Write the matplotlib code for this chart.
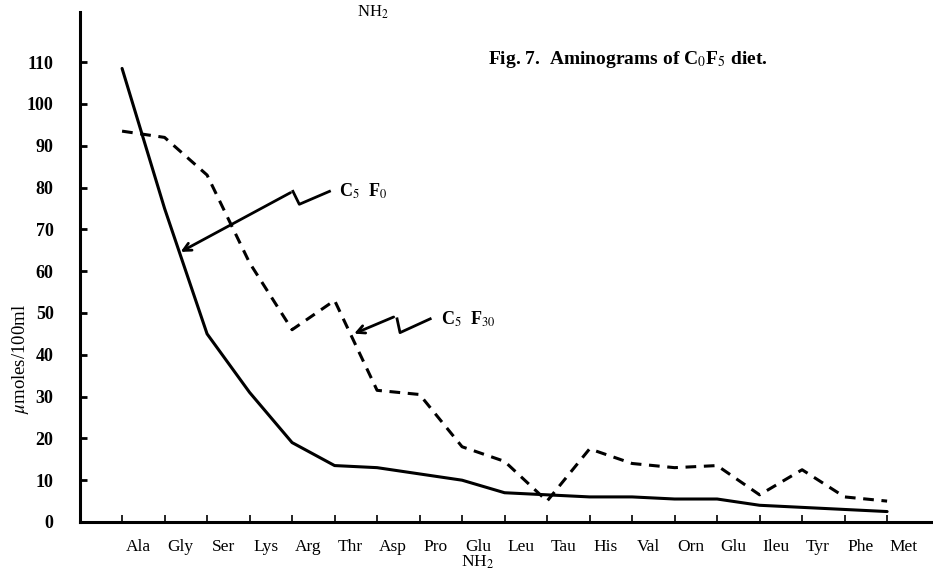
import numpy as np
import matplotlib.pyplot as plt
import matplotlib.transforms as mtrans

plt.rcParams['font.family'] = ['Liberation Serif', 'DejaVu Serif']
plt.rcParams['mathtext.fontset'] = 'stix'

# amino acids along the x axis
amino = ["Ala", "Gly", "Ser", "Lys", "Arg", "Thr", "Asp", "Pro", "Glu\nNH$_2$", "Leu",
         "Tau", "His", "Val", "Orn", "Glu", "Ileu", "Tyr", "Phe", "Met"]

# umoles/100ml
c5f0 = [108.5, 75, 45, 31, 19, 13.5, 13, 11.5, 10, 7, 6.5, 6, 6, 5.5, 5.5, 4, 3.5, 3, 2.5]
c5f30 = [93.5, 92, 83, 62, 46, 53, 31.5, 30.5, 18, 14.5, 5, 17.5, 14, 13, 13.5, 6.5, 12.5, 6, 5]

yticks = [0, 10, 20, 30, 40, 50, 60, 70, 80, 90, 100, 110]

fig = plt.figure(figsize=(9.33, 5.83), dpi=100)
ax = fig.add_axes([80 / 933, 61 / 583, 853 / 933, 510 / 583])

x = np.arange(len(amino))
ax.plot(x, c5f0, color='black', lw=2.2, solid_capstyle='round')
ax.plot(x, c5f30, color='black', lw=2.2, ls=(0, (3.5, 2.5)))

ax.set_xlim(-0.99, 19.08)
ax.set_ylim(0, 122)

ax.spines['top'].set_visible(False)
ax.spines['right'].set_visible(False)
ax.spines['left'].set_linewidth(2.2)
ax.spines['bottom'].set_linewidth(2.2)

ax.set_yticks(yticks)
ax.set_yticklabels([str(v) for v in yticks], fontweight='bold', fontsize=13)
ax.tick_params(axis='y', direction='in', length=5, width=2, pad=19)
ax.set_xticks(x)
ax.set_xticklabels(amino, fontsize=12.5)
ax.tick_params(axis='x', direction='in', length=5, width=1.2, pad=12)
# labels sit a little right of the ticks in the original
off = mtrans.ScaledTranslation(16 / 100, 0, fig.dpi_scale_trans)
for lab in ax.get_xticklabels():
    lab.set_transform(lab.get_transform() + off)
    lab.set_linespacing(0.9)

ax.set_ylabel(r"$\mu$moles/100ml", fontsize=13.5)
ax.yaxis.set_label_coords(-0.058, 0.32)

# curve labels with hand-drawn style leaders
ax.text(5.1, 79, "C$_5$  F$_0$", fontsize=13, fontweight='bold', va='center')
ax.plot([4.88, 4.17, 4.02], [79.1, 76.0, 79.1], color='black', lw=2)
ax.annotate("", xy=(1.32, 64.3), xytext=(4.02, 79.1),
            arrowprops=dict(arrowstyle='->', color='black', lw=2, mutation_scale=14))

ax.text(7.5, 48.5, "C$_5$  F$_{30}$", fontsize=13, fontweight='bold', va='center')
ax.plot([7.25, 6.54, 6.47], [48.6, 45.3, 48.6], color='black', lw=2)
ax.annotate("", xy=(5.4, 44.8), xytext=(6.45, 49.3),
            arrowprops=dict(arrowstyle='->', color='black', lw=2, mutation_scale=14))

fig.text(628 / 933, 1 - 60 / 583, "Fig. 7.  Aminograms of C$_0$F$_5$ diet.",
         fontsize=14, fontweight='bold', ha='center', va='center')
fig.text(373 / 933, 1 - 12 / 583, "NH$_2$", fontsize=12, ha='center', va='center')

fig.savefig("out.png", dpi=100)
